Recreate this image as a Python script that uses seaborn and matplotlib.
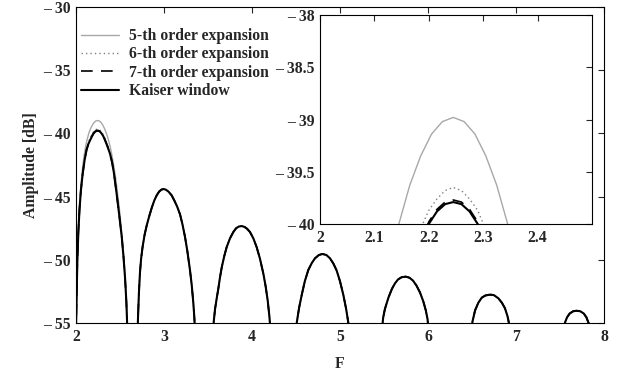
import numpy as np
import pandas as pd
import seaborn as sns
import matplotlib.pyplot as plt

# first sidelobe, read separately for each curve (they differ near the peak)
kaiser_f = [1.998, 2.004, 2.008, 2.012, 2.016, 2.026, 2.04, 2.056, 2.076, 2.098, 2.12, 2.14,
            2.16, 2.18, 2.20, 2.215, 2.23, 2.245, 2.26, 2.275, 2.29, 2.31, 2.33, 2.355,
            2.386, 2.41, 2.43, 2.462, 2.49, 2.52, 2.54, 2.557, 2.572, 2.586]
kaiser_db = [-56.0, -54.2, -52.7, -51.2, -50.0, -47.9, -46.0, -44.5, -43.2, -42.1, -41.3, -40.85,
             -40.54, -40.25, -40.0, -39.88, -39.81, -39.79, -39.81, -39.88, -40.0, -40.22, -40.54, -40.98,
             -41.6, -42.3, -43.1, -44.8, -46.4, -48.2, -49.8, -51.4, -53.3, -56.0]

order7_f = kaiser_f
order7_db = [-56.0, -54.2, -52.7, -51.2, -50.0, -47.9, -46.0, -44.5, -43.2, -42.1, -41.3, -40.84,
             -40.52, -40.23, -39.98, -39.86, -39.79, -39.77, -39.79, -39.86, -39.98, -40.2, -40.52, -40.97,
             -41.6, -42.3, -43.1, -44.8, -46.4, -48.2, -49.8, -51.4, -53.3, -56.0]

order6_f = kaiser_f
order6_db = [-56.0, -54.1, -52.6, -51.1, -49.9, -47.8, -45.9, -44.4, -43.1, -42.0, -41.15, -40.7,
             -40.38, -40.1, -39.87, -39.76, -39.68, -39.65, -39.68, -39.76, -39.87, -40.12, -40.42, -40.9,
             -41.5, -42.2, -43.0, -44.7, -46.3, -48.1, -49.7, -51.3, -53.2, -56.0]

order5_f = [1.998, 2.004, 2.008, 2.012, 2.016, 2.026, 2.04, 2.056, 2.076, 2.092, 2.11, 2.128,
            2.145, 2.165, 2.185, 2.205, 2.225, 2.245, 2.265, 2.285, 2.305, 2.325, 2.345, 2.368,
            2.39, 2.41, 2.43, 2.45, 2.47, 2.495, 2.52, 2.54, 2.557, 2.572, 2.586]
order5_db = [-56.0, -54.0, -52.4, -51.0, -49.7, -47.5, -45.6, -44.0, -42.6, -41.75, -41.0, -40.45,
             -40.0, -39.63, -39.35, -39.14, -39.02, -38.98, -39.02, -39.14, -39.35, -39.63, -40.0, -40.5,
             -41.1, -41.8, -42.6, -43.5, -44.6, -46.1, -47.9, -49.5, -51.2, -53.1, -56.0]

# remaining sidelobes, where all four curves coincide
outer_f = [
    [2.698, 2.705, 2.715, 2.727, 2.74, 2.757, 2.78, 2.803, 2.83, 2.86, 2.89, 2.917, 2.945, 2.97,
     2.995, 3.02, 3.05, 3.087, 3.12, 3.15, 3.182, 3.21, 3.239, 3.265, 3.295, 3.315, 3.333, 3.345, 3.354],
    [3.555, 3.565, 3.58, 3.60, 3.617, 3.636, 3.656, 3.685, 3.712, 3.75, 3.788, 3.82, 3.85,
     3.883, 3.915, 3.945, 3.977, 4.015, 4.053, 4.09, 4.129, 4.155, 4.178, 4.198, 4.214],
    [4.49, 4.508, 4.535, 4.565, 4.60, 4.64, 4.68, 4.716, 4.76, 4.80, 4.845, 4.886, 4.925, 4.962,
     5.00, 5.038, 5.07, 5.095, 5.105],
    [5.47, 5.49, 5.51, 5.55, 5.59, 5.625, 5.66, 5.70, 5.747, 5.79, 5.83, 5.87, 5.91, 5.947,
     5.975, 5.995, 6.01],
    [6.488, 6.505, 6.535, 6.572, 6.61, 6.65, 6.69, 6.716, 6.75, 6.80, 6.84, 6.875, 6.905, 6.925, 6.94],
    [7.53, 7.555, 7.58, 7.61, 7.65, 7.689, 7.73, 7.77, 7.80, 7.825, 7.85],
]
outer_db = [
    [-56, -54.5, -52.6, -51.0, -49.9, -48.96, -48.0, -47.3, -46.6, -45.9, -45.3, -44.9, -44.6, -44.45,
     -44.4, -44.45, -44.6, -44.9, -45.35, -45.8, -46.4, -47.2, -48.2, -49.3, -50.8, -52.0, -53.4, -54.6, -56],
    [-56, -54.9, -53.9, -53.0, -52.3, -51.4, -50.6, -49.7, -49.0, -48.3, -47.8, -47.5, -47.37,
     -47.33, -47.4, -47.55, -47.8, -48.3, -49.0, -49.9, -51.1, -52.1, -53.2, -54.5, -56],
    [-56, -55.0, -53.8, -52.78, -51.7, -50.8, -50.25, -49.88, -49.62, -49.54, -49.62, -49.88, -50.3, -50.85,
     -51.7, -52.78, -53.9, -55.0, -56],
    [-56, -54.6, -53.9, -53.0, -52.3, -51.86, -51.55, -51.38, -51.33, -51.42, -51.65, -52.05, -52.6, -53.3,
     -54.0, -54.7, -56],
    [-56, -54.9, -54.0, -53.4, -53.0, -52.83, -52.77, -52.76, -52.8, -53.05, -53.4, -53.84, -54.5, -55.2, -56],
    [-56, -55.0, -54.55, -54.25, -54.07, -54.03, -54.07, -54.25, -54.55, -55.0, -56],
]

series = ['5-th order expansion', '6-th order expansion', '7-th order expansion', 'Kaiser window']
first_lobes = [(order5_f, order5_db), (order6_f, order6_db), (order7_f, order7_db), (kaiser_f, kaiser_db)]

rows = []
for name, (f1, d1) in zip(series, first_lobes):
    for f, d in zip(f1, d1):
        rows.append((name, 1, f, d))
    for k, (fs, ds) in enumerate(zip(outer_f, outer_db)):
        for f, d in zip(fs, ds):
            rows.append((name, k + 2, f, d))
df = pd.DataFrame(rows, columns=['series', 'lobe', 'F', 'dB'])

palette = {series[0]: '#a8a8a8', series[1]: '#808080', series[2]: 'black', series[3]: 'black'}
dashes = {series[0]: '', series[1]: (1, 2.2), series[2]: (7, 5), series[3]: ''}
sizes = {series[0]: 1.0, series[1]: 1.0, series[2]: 1.2, series[3]: 1.5}

sns.set_style('white')
plt.rcParams['font.family'] = ['Liberation Serif', 'DejaVu Serif']
plt.rcParams['font.weight'] = 'bold'
plt.rcParams['axes.labelweight'] = 'bold'
plt.rcParams['xtick.direction'] = 'in'
plt.rcParams['ytick.direction'] = 'in'
FS = 11.3


def draw(ax, legend):
    sns.lineplot(data=df, x='F', y='dB', hue='series', style='series', size='series',
                 units='lobe', estimator=None, sort=False,
                 palette=palette, dashes=dashes, sizes=sizes,
                 hue_order=series, style_order=series, size_order=series,
                 legend=legend, ax=ax)
    for s in ax.spines.values():
        s.set_linewidth(0.8)
        s.set_color('black')
    ax.tick_params(top=True, right=True, length=4, width=0.8, pad=4)


def labels(vals):
    return [f'{v:g}'.replace('-', '\u2013 ') for v in vals]


fig = plt.figure(figsize=(6.23, 3.80), dpi=100)
ax = fig.add_axes([0.122, 0.15, 0.8475, 0.8316])
draw(ax, 'full')
ax.set_xlim(2, 8)
ax.set_ylim(-55, -30)
xt = [2, 3, 4, 5, 6, 7, 8]
yt = [-55, -50, -45, -40, -35, -30]
ax.set_xticks(xt)
ax.set_xticklabels(labels(xt), fontsize=FS, fontweight='bold')
ax.set_yticks(yt)
ax.set_yticklabels(labels(yt), fontsize=FS, fontweight='bold')
ax.set_xlabel('F', fontsize=FS, fontweight='bold', labelpad=8)
ax.set_ylabel('Amplitude [dB]', fontsize=FS, fontweight='bold', labelpad=3)

handles, names = ax.get_legend_handles_labels()
keep = [(h, l) for h, l in zip(handles, names) if l in series]
ax.legend([h for h, _ in keep], [l for _, l in keep], loc='upper left',
          bbox_to_anchor=(-0.012, 0.968), frameon=False,
          prop={'size': FS, 'weight': 'bold'},
          handlelength=2.45, handletextpad=0.6, labelspacing=0.15, borderaxespad=0.3)

inset = fig.add_axes([0.5136, 0.4105, 0.4366, 0.55])
draw(inset, False)
inset.set_xlim(2, 2.5)
inset.set_ylim(-40, -38)
ixt = [2, 2.1, 2.2, 2.3, 2.4]
iyt = [-40, -39.5, -39, -38.5, -38]
inset.set_xticks(ixt)
inset.set_xticklabels(labels(ixt), fontsize=FS, fontweight='bold')
inset.set_yticks(iyt)
inset.set_yticklabels(labels(iyt), fontsize=FS, fontweight='bold')
inset.set_xlabel('')
inset.set_ylabel('')

fig.savefig('out.png', dpi=100)
